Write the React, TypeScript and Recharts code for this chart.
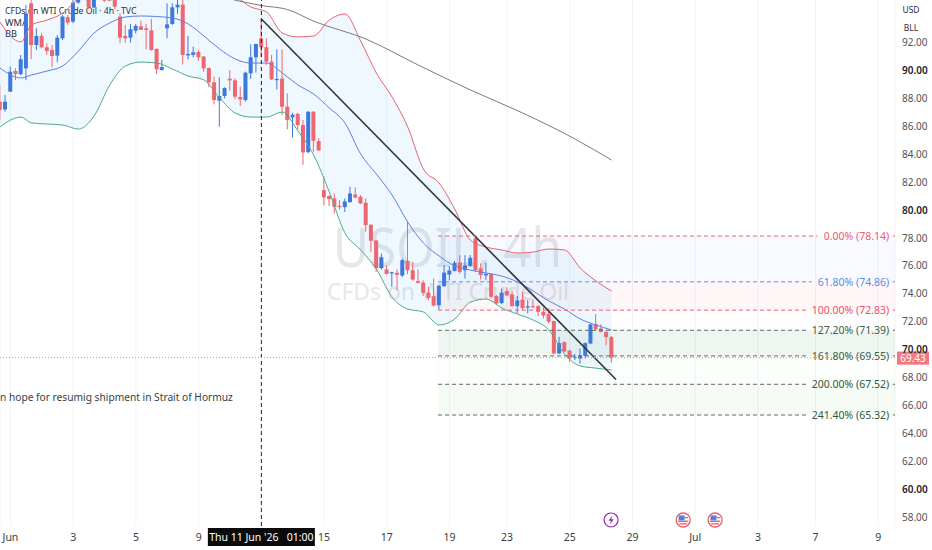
import React from "react";
import {
  ComposedChart, Bar, Line, Area, XAxis, YAxis, CartesianGrid,
  ReferenceLine, ReferenceArea, ReferenceDot,
} from "recharts";

const FONT = "'Noto Sans', sans-serif";

// 4h candles, index 0 = leftmost on screen
const opens = [
  87.76,87.21,88.48,89.96,89.74,90.15,94.81,91.82,92.47,91.66,91.46,91.06,92.30,93.81,93.50,94.86,95.6,95.29,94.52,95.4,
  95.2,95.15,95.05,93.86,92.47,92.35,92.85,93.16,93.02,92.87,91.54,90.03,93.02,93.33,94.52,94.71,91.08,91.11,91.32,90.99,
  90.17,89.15,87.83,88.17,89.41,89.29,88.10,87.88,89.79,90.94,92.30,91.66,90.63,89.34,89.41,87.40,86.64,86.88,86.09,84.15,
  87.04,84.94,81.43,81.00,80.83,80.30,80.21,80.57,81.12,80.95,80.52,78.94,77.82,75.84,75.74,75.48,75.50,75.31,76.36,75.69,
  74.90,74.81,74.09,73.83,73.18,74.55,75.38,75.64,76.24,75.69,76.00,77.97,75.82,75.32,75.42,73.84,73.34,74.20,73.96,73.12,
  73.58,73.03,73.12,73.12,72.71,72.55,72.05,69.73,70.54,69.92,69.42,69.37,69.56,70.44,71.83,71.52,71.26,70.90,
];
const closes = [
  87.16,87.76,89.91,89.74,90.80,94.09,91.82,92.47,91.66,91.39,91.03,92.35,93.86,93.42,94.86,95.05,96.2,94.52,95.17,96.0,
  95.0,95.0,94.57,92.35,92.30,92.95,93.19,92.90,92.90,91.46,90.08,90.25,93.30,94.52,94.71,91.11,91.18,91.30,90.94,90.15,
  89.15,87.88,88.17,88.74,89.29,88.12,87.93,89.84,90.94,91.90,91.66,90.63,89.36,89.39,87.40,86.45,86.83,86.09,84.13,87.04,
  84.96,84.27,80.90,80.78,80.23,80.21,80.62,81.19,80.90,80.47,78.92,77.80,75.84,76.62,75.43,75.55,75.36,76.41,75.69,75.02,
  74.78,74.07,73.71,73.16,74.57,75.52,75.67,76.22,75.57,76.03,76.58,75.70,75.34,75.42,73.79,73.31,74.08,73.89,73.12,73.53,
  72.98,73.10,73.05,72.71,72.45,72.00,69.73,70.47,69.87,69.37,69.49,69.58,70.47,71.81,71.45,71.28,70.90,69.42,
];
const highs = [
  88.96,88.24,90.27,90.15,91.11,94.69,95.05,93.02,92.66,91.94,91.82,92.54,93.97,93.97,95.29,95.29,96.6,95.6,95.5,96.3,
  95.4,95.3,95.3,94.09,93.26,93.33,93.33,93.57,93.33,93.69,91.58,90.75,94.81,94.81,95.05,95.05,92.47,91.70,91.46,91.03,
  90.22,89.55,89.50,88.79,90.03,89.43,88.84,89.91,91.87,91.90,93.66,92.30,91.11,91.51,91.51,88.36,86.97,86.97,86.45,87.09,
  87.09,85.16,82.38,81.07,81.19,80.71,80.83,81.67,81.62,81.07,80.83,78.99,77.84,76.89,76.05,75.57,75.74,76.53,79.16,76.29,
  75.74,74.97,74.50,75.09,74.66,76.05,75.98,76.36,76.77,76.77,76.77,78.04,76.18,76.23,75.46,73.91,74.39,74.46,74.22,73.84,
  74.15,73.55,73.60,73.19,73.03,72.95,72.07,70.92,70.59,70.01,69.68,70.09,70.52,71.83,72.55,71.83,71.35,70.97,
];
const lows = [
  86.45,87.04,88.48,89.31,89.67,89.31,90.80,91.46,91.58,91.11,90.22,90.58,92.18,93.26,93.38,94.76,95.3,94.4,94.45,95.2,
  94.9,94.95,94.38,91.94,91.99,91.99,92.66,92.90,91.51,91.42,89.74,89.98,92.30,93.26,94.05,90.44,90.80,90.94,90.68,89.91,
  88.79,87.57,85.97,88.00,88.55,87.93,87.45,87.76,89.39,89.84,90.94,90.39,89.31,88.64,86.80,85.78,85.20,85.78,83.24,84.06,
  84.18,84.22,80.35,80.28,79.76,80.04,79.87,80.52,80.83,80.42,78.44,77.01,75.57,75.74,75.38,74.50,74.26,75.21,75.41,74.93,
  74.74,73.85,73.54,73.11,72.87,74.50,74.97,75.60,75.45,75.09,75.93,75.58,75.03,74.98,73.67,73.26,73.26,73.84,73.07,72.60,
  72.83,72.60,73.03,72.40,72.24,71.88,69.68,69.68,69.82,69.13,69.25,69.01,69.37,70.40,71.40,71.23,70.32,69.06,
];

// Bollinger bands sampled along the candle index
const bbIndex = [0,4,6,9,12,15,18,21,24,27,30,33,36,39,42,45,48,51,54,57,60,63,66,69,72,75,78,81,84,87,90,93,96,99,102,105,108,111,114,117];
const bbUpper = [93.47,92.04,93.25,93.61,94.11,95.19,96.12,96.62,97.05,97.19,97.19,97.05,96.84,96.48,95.90,95.33,94.54,94.19,92.68,92.40,92.47,93.61,94.04,92.11,89.82,88.10,85.95,82.94,81.94,80.07,77.85,77.35,77.14,76.92,76.99,77.21,77.14,75.85,74.92,74.20];
const bbBasis = [90.17,89.46,89.67,89.96,90.32,91.39,92.68,93.40,93.83,93.90,93.86,93.76,93.33,92.47,91.54,90.82,90.53,90.53,89.82,88.96,88.31,87.31,86.23,84.01,82.58,81.08,79.14,77.64,76.71,75.99,75.70,75.49,75.27,74.85,74.20,73.49,72.91,72.20,71.77,71.41];
const bbLower = [85.95,86.66,86.24,86.16,86.09,85.80,86.74,88.96,90.32,90.60,90.53,90.10,89.60,89.32,88.03,86.95,86.66,86.66,87.02,85.66,83.94,81.29,78.35,77.14,75.78,73.77,72.91,72.70,71.77,72.20,73.41,73.63,72.98,72.55,72.12,71.41,69.69,68.83,68.68,68.54];

// Long weighted moving average
const wmaIndex = [44,50,55,60,70,80,90,100,110,117];
const wmaValues = [95.12,94.65,94.36,93.53,92.25,90.39,88.60,86.95,85.09,83.58];

// Hand-drawn trend line
const trendIndex = [50,117.85];
const trendValues = [93.68,67.86];

// Fibonacci levels
const fibLabels = ["0.00%","61.80%","100.00%","127.20%","161.80%","200.00%","241.40%"];
const fibPrices = [78.14,74.86,72.83,71.39,69.55,67.52,65.32];
const fibLineColors = ["#f0607a","#5f90ef","#ef5c78","#55705c","#55705c","#55705c","#55705c"];
const fibTextColors = ["#ef5a70","#5a8de8","#ee4f6b","#3b6146","#3b6146","#2f5a3c","#2f5a3c"];
const fibFills = ["#2962ff","#f23645","#888888","#2e7d32","#4caf50","#4caf50"];
const fibFillOpacity = [0.03,0.04,0.01,0.075,0.015,0.05];
const fibLabelStart = [157.4,156.3,155.5,155.4,155.5,155.3,155.3];

const xTickValues = [2,14,26,38,50,62,74,86,97,109,121,133,145,156,168];
const xTickLabels = ["Jun","3","5","9","Thu 11 Jun '26   01:00","15","17","19","23","25","29","Jul","3","7","9"];
const yTickValues = [58,60,62,64,66,68,70,72,74,76,78,80,82,84,86,88,90,92];
const lastPrice = 69.43;
const crosshairIndex = 50;
const eventLightning = [116.9];
const eventFlags = [130.7,136.8];
const eventPrice = 57.8;

const X_MAX = 171.22;
const Y_MIN = 57.37;
const Y_MAX = 95.045;
const FIB_START = 83.8;

const candles = opens.map((o, i) => ({ i, o, c: closes[i], h: highs[i], l: lows[i], range: [lows[i], highs[i]] }));
const bbRows = bbIndex.map((i, k) => ({ i, upper: bbUpper[k], basis: bbBasis[k], lower: bbLower[k], band: [bbLower[k], bbUpper[k]] }));
const wmaRows = wmaIndex.map((i, k) => ({ i, v: wmaValues[k] }));
const trendRows = trendIndex.map((i, k) => ({ i, v: trendValues[k] }));

function Candle(props: any) {
  const { x, y, width, height, payload } = props;
  const { o, c, h, l } = payload;
  const up = c >= o;
  const color = up ? "#3f78dd" : "#ee6670";
  const hgt = Math.abs(height);
  const k = hgt / Math.max(h - l, 0.0001);
  const top = y + (h - Math.max(o, c)) * k;
  const bh = Math.max(Math.abs(o - c) * k, 1.2);
  const cx = x + width / 2;
  return (
    <g>
      <line x1={cx} x2={cx} y1={y} y2={y + hgt} stroke={color} strokeWidth={1} />
      <rect x={cx - 2} y={top} width={4} height={bh} fill={color} />
    </g>
  );
}

function XTick(props: any) {
  const { x, y, payload } = props;
  const idx = xTickValues.indexOf(payload.value);
  const label = xTickLabels[idx];
  if (payload.value === crosshairIndex) {
    return (
      <g>
        <rect x={x - 53.5} y={528} width={107} height={18} fill="#0b0b0b" />
        <text x={x} y={541} textAnchor="middle" fontSize={10.5} fill="#ffffff" fontFamily={FONT} xmlSpace="preserve">{label}</text>
      </g>
    );
  }
  return <text x={x} y={541} textAnchor="middle" fontSize={10.5} fill="#3a3d45" fontFamily={FONT}>{label}</text>;
}

function YTick(props: any) {
  const { y, payload } = props;
  const v = payload.value;
  const strong = v % 10 === 0;
  return (
    <text x={902} y={y + 3.6} fontSize={10} fill={strong ? "#22252b" : "#50535b"} fontWeight={strong ? 600 : 400} fontFamily={FONT}>
      {v.toFixed(2)}
    </text>
  );
}

function Flag({ cx, cy }: any) {
  return (
    <g>
      <circle cx={cx} cy={cy} r={7} fill="#fff" stroke="#ec5f6a" strokeWidth={1.3} />
      <rect x={cx - 4.6} y={cy - 4.6} width={6} height={5} fill="#4a86e0" />
      <rect x={cx + 1.4} y={cy - 3} width={3.4} height={1.3} fill="#ec5f6a" />
      <rect x={cx - 5} y={cy + 0.6} width={10} height={1.4} fill="#ec5f6a" />
      <rect x={cx - 4} y={cy + 3.2} width={8} height={1.3} fill="#ec5f6a" />
    </g>
  );
}

function Lightning({ cx, cy }: any) {
  return (
    <g>
      <circle cx={cx} cy={cy} r={7} fill="#fff" stroke="#9c27b0" strokeWidth={1.2} />
      <path d={`M${cx + 1} ${cy - 4.5}L${cx - 2.5} ${cy + 0.8}H${cx - 0.2}L${cx - 1} ${cy + 4.5}L${cx + 2.6} ${cy - 0.8}H${cx + 0.2}Z`} fill="#9c27b0" />
    </g>
  );
}

export default function App() {
  return (
    <div style={{ position: "absolute", left: 0, top: 0, width: 932, height: 550, background: "#fff" }}>
      <ComposedChart width={932} height={550} data={candles} margin={{ top: 0, right: 0, bottom: 0, left: 0 }}>
        <CartesianGrid vertical horizontal={false} stroke="#f3f4f6" />
        <XAxis
          dataKey="i" type="number" domain={[0, X_MAX]} allowDataOverflow ticks={xTickValues} interval={0}
          height={24} axisLine={false} tickLine={false} tick={<XTick />}
        />
        <YAxis
          orientation="right" type="number" domain={[Y_MIN, Y_MAX]} allowDataOverflow ticks={yTickValues} interval={0}
          width={37} axisLine={false} tickLine={false} tick={<YTick />}
        />

        <text x={333} y={267} textLength={229} lengthAdjust="spacingAndGlyphs" fontSize={54} fill="#e6e7ea" fontFamily={FONT}>USOIL, 4h</text>
        <text x={327} y={300} textLength={242} lengthAdjust="spacingAndGlyphs" fontSize={23.5} fill="#e6e7ea" fontFamily={FONT}>CFDs on WTI Crude Oil</text>

        {fibFills.map((fill, k) => (
          <ReferenceArea key={`fa${k}`} x1={FIB_START} x2={X_MAX} y1={fibPrices[k]} y2={fibPrices[k + 1]} fill={fill} fillOpacity={fibFillOpacity[k]} stroke="none" />
        ))}

        <Area data={bbRows} dataKey="band" type="monotone" stroke="none" fill="#2196f3" fillOpacity={0.07} isAnimationActive={false} dot={false} activeDot={false} />
        <Line data={bbRows} dataKey="upper" type="monotone" stroke="#e8626e" strokeWidth={1} dot={false} activeDot={false} isAnimationActive={false} />
        <Line data={bbRows} dataKey="basis" type="monotone" stroke="#5d80e6" strokeWidth={1} dot={false} activeDot={false} isAnimationActive={false} />
        <Line data={bbRows} dataKey="lower" type="monotone" stroke="#4fa98a" strokeWidth={1} dot={false} activeDot={false} isAnimationActive={false} />

        <Bar dataKey="range" barSize={4} shape={<Candle />} isAnimationActive={false} />

        <Line data={wmaRows} dataKey="v" type="monotone" stroke="#7b7b7b" strokeWidth={1} dot={false} activeDot={false} isAnimationActive={false} />
        <Line data={trendRows} dataKey="v" type="linear" stroke="#33363b" strokeWidth={1.6} dot={false} activeDot={false} isAnimationActive={false} />

        <ReferenceLine x={crosshairIndex} stroke="#222" strokeDasharray="4 3" strokeWidth={1} />
        <ReferenceLine y={lastPrice} stroke="#f08a90" strokeDasharray="1 2" strokeWidth={1} />

        {fibPrices.map((p, k) => (
          <ReferenceLine key={`fl${k}`} segment={[{ x: FIB_START, y: p }, { x: fibLabelStart[k] - 1, y: p }]} stroke={fibLineColors[k]} strokeDasharray="4 3" strokeWidth={1} />
        ))}
        {fibPrices.map((p, k) => (
          <ReferenceLine key={`ft${k}`} segment={[{ x: 170.8, y: p }, { x: X_MAX, y: p }]} stroke={fibLineColors[k]} strokeWidth={1} />
        ))}
        {fibPrices.map((p, k) => (
          <ReferenceDot
            key={`fd${k}`} x={170.1} y={p} r={0} ifOverflow="visible"
            shape={(d: any) => (
              <text x={d.cx} y={d.cy + 4} textAnchor="end" fontSize={10.5} fill={fibTextColors[k]} fontFamily={FONT}>
                {`${fibLabels[k]} (${p.toFixed(2)})`}
              </text>
            )}
          />
        ))}

        <ReferenceDot
          x={X_MAX} y={lastPrice} r={0} ifOverflow="visible"
          shape={(d: any) => (
            <g>
              <rect x={d.cx + 2} y={d.cy - 6} width={32} height={13} fill="#f4777f" />
              <text x={d.cx + 18} y={d.cy + 4} textAnchor="middle" fontSize={10} fill="#fff" fontFamily={FONT}>{lastPrice.toFixed(2)}</text>
            </g>
          )}
        />

        {eventLightning.map((x, k) => (
          <ReferenceDot key={`el${k}`} x={x} y={eventPrice} r={0} ifOverflow="visible" shape={(d: any) => <Lightning cx={d.cx} cy={d.cy} />} />
        ))}
        {eventFlags.map((x, k) => (
          <ReferenceDot key={`ef${k}`} x={x} y={eventPrice} r={0} ifOverflow="visible" shape={(d: any) => <Flag cx={d.cx} cy={d.cy} />} />
        ))}

        <text x={5} y={14} fontSize={8.7} fill="#2a2e39" fontFamily={FONT}>CFDs on WTI Crude Oil · 4h · TVC</text>
        <text x={5} y={25.5} fontSize={9.2} fill="#2a2e39" fontFamily={FONT}>WMA</text>
        <text x={5} y={36.5} fontSize={9.2} fill="#2a2e39" fontFamily={FONT}>BB</text>
        <text x={0} y={401} fontSize={10.2} fill="#3a3d45" fontFamily={FONT}>n hope for resumig shipment in Strait of Hormuz</text>
        <text x={911} y={13} textAnchor="middle" fontSize={8.5} fill="#2a2e39" fontFamily={FONT}>USD</text>
        <text x={911} y={31} textAnchor="middle" fontSize={8.5} fill="#2a2e39" fontFamily={FONT}>BLL</text>
      </ComposedChart>
    </div>
  );
}
